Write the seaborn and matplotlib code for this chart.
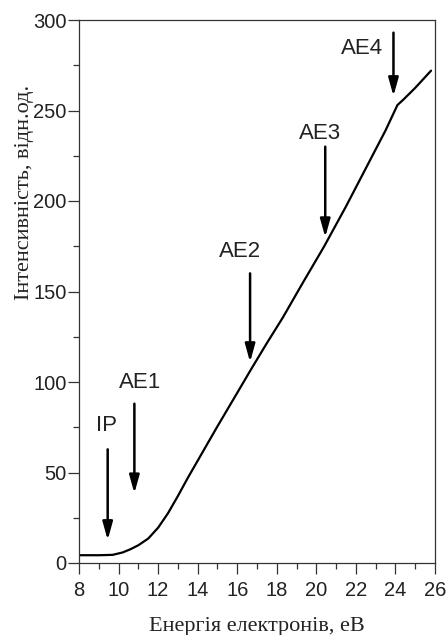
import matplotlib
matplotlib.use("Agg")
import matplotlib.pyplot as plt
import seaborn as sns
import pandas as pd
from matplotlib.ticker import MultipleLocator

# ---- data ----
energy = [8.0, 9.0, 9.7, 10.2, 10.6, 11.0, 11.5, 12.0, 12.5, 13.0, 13.5, 14.0,
          15.0, 16.0, 16.7, 17.5, 18.3, 19.3, 20.4, 21.5, 22.5, 23.5, 24.1,
          24.4, 25.0, 25.8]
intensity = [4.3, 4.3, 4.5, 5.8, 7.6, 9.8, 13.5, 19.5, 27.5, 37.0, 47.0, 56.5,
             75.5, 94.0, 107.0, 121.5, 135.5, 154.5, 175.0, 197.0, 218.0, 239.0,
             253.0, 256.0, 262.5, 272.0]

marker_names = ["IP", "AE1", "AE2", "AE3", "AE4"]
marker_x = [9.45, 10.8, 16.65, 20.45, 23.9]
arrow_top = [62.8, 88.0, 160.0, 230.0, 293.0]
arrow_tip = [12.7, 38.5, 111.0, 180.0, 258.0]
label_x = [9.37, 11.08, 16.14, 20.18, 22.3]
label_y = [75.7, 100.0, 172.0, 237.4, 284.4]

x_ticks = [8, 10, 12, 14, 16, 18, 20, 22, 24, 26]
y_ticks = [0, 50, 100, 150, 200, 250, 300]

df = pd.DataFrame({"energy": energy, "intensity": intensity})

sns.set_style("ticks")
plt.rcParams['font.family'] = ['Liberation Sans', 'DejaVu Sans']

fig = plt.figure(figsize=(4.48, 6.35), dpi=100)
ax = fig.add_axes([79 / 448, 1 - 563 / 635, 356 / 448, 543 / 635])

sns.lineplot(data=df, x="energy", y="intensity", ax=ax, color="black",
             linewidth=1.6, estimator=None, sort=False)

ax.set_xlim(8, 26)
ax.set_ylim(0, 300)
ax.set_xticks(x_ticks)
ax.set_yticks(y_ticks)
ax.xaxis.set_minor_locator(MultipleLocator(1))
ax.yaxis.set_minor_locator(MultipleLocator(25))
ax.tick_params(which="major", direction="out", length=8, width=0.9,
               colors="#333333", labelsize=14.5, labelcolor="#222222")
ax.tick_params(axis="y", which="major", pad=1)
ax.tick_params(axis="x", which="major", pad=5)
ax.tick_params(which="minor", direction="out", length=4, width=0.9,
               colors="#333333")
for sp in ax.spines.values():
    sp.set_visible(True)
    sp.set_color("#333333")
    sp.set_linewidth(0.9)

for name, mx, top, tip, lx, ly in zip(marker_names, marker_x, arrow_top,
                                       arrow_tip, label_x, label_y):
    ax.annotate("", xy=(mx, tip), xytext=(mx, top),
                arrowprops=dict(arrowstyle="-|>,head_length=0.9,head_width=0.25",
                                color="black", lw=1.8, mutation_scale=12,
                                shrinkA=0, shrinkB=0))
    ax.text(lx, ly, name, ha="center", va="center", fontsize=16,
            color="#222222")

ax.set_xlabel("Енергія електронів, еВ", family=["Liberation Serif", "DejaVu Serif"],
              fontsize=16, color="#222222")
ax.set_ylabel("Інтенсивність, відн.од.", family=["Liberation Serif", "DejaVu Serif"],
              fontsize=16, color="#222222")
ax.xaxis.set_label_coords(0.5, (563 - 617) / 543, transform=ax.transAxes)
ax.yaxis.set_label_coords((34 - 79) / 356, 0.683, transform=ax.transAxes)

fig.savefig("out.png", dpi=100)
